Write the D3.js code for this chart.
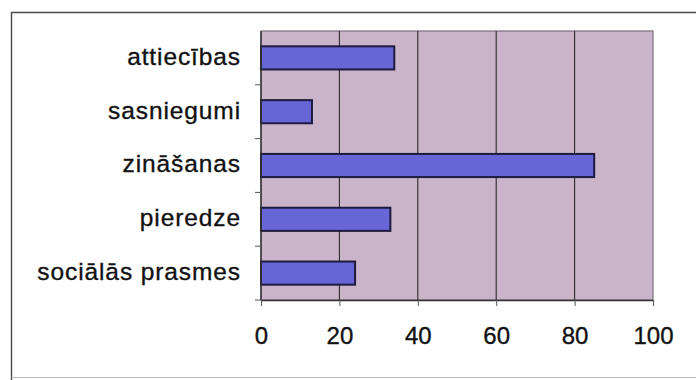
<!DOCTYPE html>
<html>
<head>
<meta charset="utf-8">
<script src="https://cdn.jsdelivr.net/npm/d3@7"></script>
<style>
  html, body { margin: 0; padding: 0; background: #ffffff; }
  svg { display: block; }
  text { font-family: "Liberation Sans", Arial, sans-serif; fill: #111; stroke: #111; stroke-width: 0.35px; }
</style>
</head>
<body>
<svg id="chart" width="696" height="380"></svg>
<script>
// Categories (top to bottom) and their values
const categories = ["attiecības", "sasniegumi", "zināšanas", "pieredze", "sociālās prasmes"];
const values = [34, 13, 85, 33, 24];
const xTicks = [0, 20, 40, 60, 80, 100];

const svg = d3.select("#chart");
const W = 696, H = 380;
const plot = { left: 261, top: 31, right: 653, bottom: 300 };

// outer chart frame: top and left edges, faint bottom edge
const frame = svg.append("g").attr("fill", "none");
frame.append("path")
  .attr("d", `M11.5,${H} V12.5 H${W}`)
  .attr("stroke", "#4a4a4a").attr("stroke-width", 1.4);
frame.append("path")
  .attr("d", `M11.5,${H - 2.5} H${W}`)
  .attr("stroke", "#bbb").attr("stroke-width", 1);

const x = d3.scaleLinear().domain([0, 100]).range([plot.left, plot.right]);
const y = d3.scaleBand().domain(categories)
  .range([plot.top, plot.bottom])
  .paddingInner(0.57).paddingOuter(0.285);

// plot area background
svg.append("rect")
  .attr("x", plot.left).attr("y", plot.top)
  .attr("width", plot.right - plot.left).attr("height", plot.bottom - plot.top)
  .attr("fill", "#cab4ca")
  .attr("stroke", "#7a6f7a").attr("stroke-width", 1.2);

// vertical gridlines
svg.append("g")
  .selectAll("line")
  .data(xTicks.filter(t => t > 0 && t < 100))
  .join("line")
  .attr("x1", d => x(d)).attr("x2", d => x(d))
  .attr("y1", plot.top).attr("y2", plot.bottom)
  .attr("stroke", "#2a2a2a").attr("stroke-width", 1.1);

// bars
svg.append("g")
  .selectAll("rect")
  .data(categories)
  .join("rect")
  .attr("x", x(0))
  .attr("y", d => y(d))
  .attr("width", (d, i) => x(values[i]) - x(0))
  .attr("height", y.bandwidth())
  .attr("fill", "#6866d6")
  .attr("stroke", "#1c1a3e").attr("stroke-width", 2);

// bottom axis
const xAxis = svg.append("g")
  .attr("transform", `translate(0,${plot.bottom})`)
  .call(d3.axisBottom(x).tickValues(xTicks).tickSize(6).tickPadding(21).tickSizeOuter(0));
xAxis.select(".domain").attr("stroke", "#333").attr("stroke-width", 1.5);
xAxis.selectAll(".tick line").attr("stroke", "#555");
xAxis.selectAll(".tick text")
  .style("font-family", "'Liberation Sans', Arial, sans-serif")
  .style("font-size", "24px")
  .attr("fill", "#111");

// left axis: ticks sit at category boundaries
const bounds = categories.map(c => y(c) - y.step() * y.paddingInner() / 2).concat([plot.bottom]);
const yAxis = svg.append("g");
yAxis.append("line")
  .attr("x1", plot.left).attr("x2", plot.left)
  .attr("y1", plot.top).attr("y2", plot.bottom)
  .attr("stroke", "#333").attr("stroke-width", 1.5);
yAxis.selectAll("line.tk")
  .data(bounds.slice(1))
  .join("line").attr("class", "tk")
  .attr("x1", plot.left - 6).attr("x2", plot.left)
  .attr("y1", d => d).attr("y2", d => d)
  .attr("stroke", "#555");

// category labels
svg.append("g")
  .selectAll("text")
  .data(categories)
  .join("text")
  .attr("x", plot.left - 20)
  .attr("y", d => y(d) + y.bandwidth() / 2)
  .attr("dy", "0.28em")
  .attr("text-anchor", "end")
  .style("font-size", "24.5px")
  .style("letter-spacing", "0.9px")
  .text(d => d);
</script>
</body>
</html>
